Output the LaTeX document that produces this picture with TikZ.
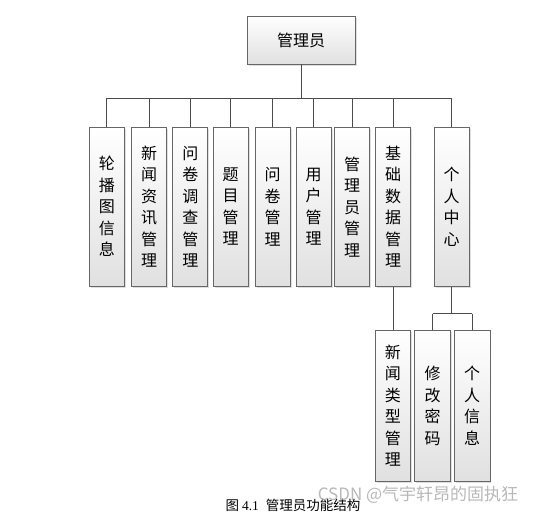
\documentclass[tikz,border=0pt]{standalone}
\usepackage{fontspec}
\setmainfont{Noto Sans CJK SC}
\newfontfamily\serifnum{Liberation Serif}
\usetikzlibrary{shadows,calc}
\tikzset{
  box/.style={draw=black!60, line width=0.9pt, top color=white, bottom color=black!12,
    drop shadow={shadow xshift=1.5pt, shadow yshift=-1.5pt, opacity=0.25, fill=black!50},
    inner sep=0pt, align=center, font=\fontsize{16}{21.5}\selectfont},
  vbox/.style={box, minimum width=35pt, minimum height=158.7pt, text width=20pt},
  lbox/.style={box, minimum width=35.5pt, minimum height=150.5pt, text width=20pt},
  conn/.style={draw=black!70, line width=0.9pt}
}
\begin{document}
\begin{tikzpicture}[x=1pt,y=-1pt]
\useasboundingbox (0,0) rectangle (550,514);
\node[box, minimum width=108pt, minimum height=48pt] (top) at (301,40) {管理员};
\node[vbox] (b1) at (106.8,206.7) {轮\\播\\图\\信\\息};
\node[vbox] (b2) at (149,206.7) {新\\闻\\资\\讯\\管\\理};
\node[vbox] (b3) at (190.3,206.7) {问\\卷\\调\\查\\管\\理};
\node[vbox] (b4) at (230.5,206.7) {题\\目\\管\\理};
\node[vbox] (b5) at (272.7,206.7) {问\\卷\\管\\理};
\node[vbox] (b6) at (313.7,206.7) {用\\户\\管\\理};
\node[vbox] (b7) at (352,206.9) {管\\理\\员\\管\\理};
\node[vbox] (b8) at (393.2,206.9) {基\\础\\数\\据\\管\\理};
\node[vbox] (b9) at (451.5,206.7) {个\\人\\中\\心};
\node[lbox] (c1) at (392.8,405.8) {新\\闻\\类\\型\\管\\理};
\node[lbox] (c2) at (432.5,405.8) {修\\改\\密\\码};
\node[lbox] (c3) at (472.2,405.8) {个\\人\\信\\息};
\coordinate (busy) at (0,98.3);
\draw[conn] (top.south) -- (top.south |- busy);
\draw[conn] (b1.north |- busy) -- (b9.north |- busy);
\foreach \b in {b1,b2,b3,b4,b5,b6,b7,b8,b9}
  \draw[conn] (\b.north |- busy) -- (\b.north);
\draw[conn] (b8.south) -- (b8.south |- c1.north);
\draw[conn] (b9.south) -- ++(0,27) coordinate (j);
\draw[conn] (j -| c2.north) -- (j -| c3.north);
\draw[conn] (j -| c2.north) -- (c2.north);
\draw[conn] (j -| c3.north) -- (c3.north);
\node[font=\fontsize{13.5}{15}\selectfont, anchor=center] (cap) at (293,505) {图 {\serifnum 4.1}\hspace{7pt}管理员功能结构};
\node[font=\fontsize{17}{20}\selectfont, text=black!35, opacity=0.8] (wm) at (418,495) {CSDN @气宇轩昂的固执狂};
\end{tikzpicture}
\end{document}
